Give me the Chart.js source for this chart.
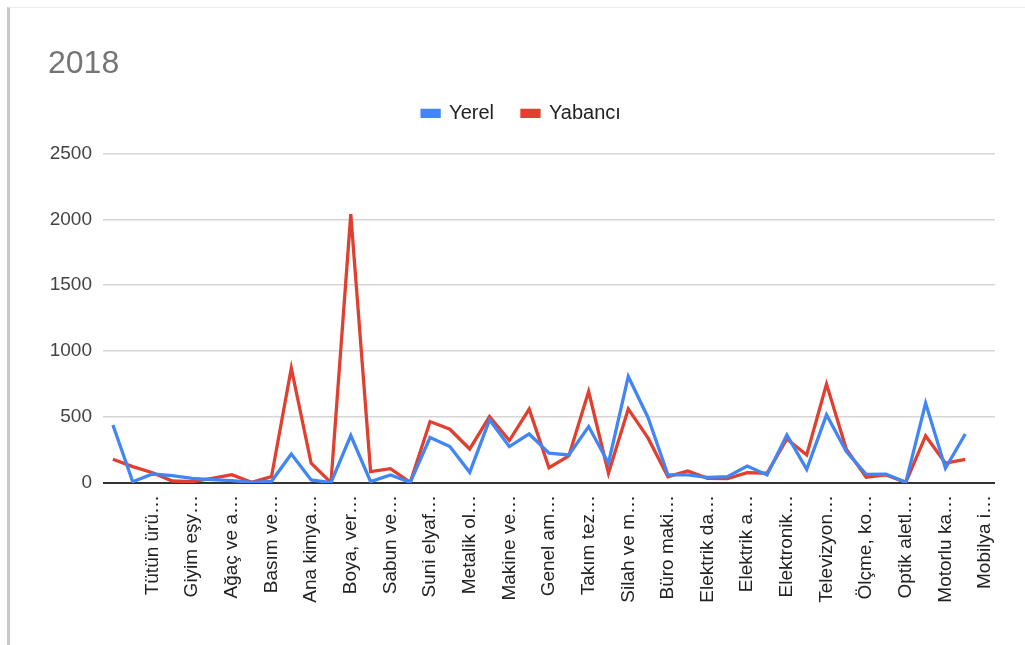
<!DOCTYPE html>
<html>
<head>
<meta charset="utf-8">
<script src="https://cdn.jsdelivr.net/npm/chart.js@4/dist/chart.umd.min.js"></script>
<style>
  html, body { margin: 0; padding: 0; background: #fff; }
  #frame {
    position: absolute; left: 7px; top: 7px; width: 1018px; height: 638px;
    border-left: 3px solid #c8c8c8; border-top: 1px solid #ececec;
    box-sizing: border-box;
  }
  #wrap { position: absolute; left: 0; top: 0; width: 1025px; height: 645px; }
</style>
</head>
<body>
<div id="frame"></div>
<div id="wrap"><canvas id="chart" width="1025" height="645"></canvas></div>
<script>
// categories (only every second one is labelled on the axis; '' = unlabelled)
const categories = [
  '', '', 'Tütün ürü…', '', 'Giyim eşy…', '', 'Ağaç ve a…', '', 'Basım ve…', '',
  'Ana kimya…', '', 'Boya, ver…', '', 'Sabun ve…', '', 'Suni elyaf…', '', 'Metalik ol…', '',
  'Makine ve…', '', 'Genel am…', '', 'Takım tez…', '', 'Silah ve m…', '', 'Büro maki…', '',
  'Elektrik da…', '', 'Elektrik a…', '', 'Elektronik…', '', 'Televizyon…', '', 'Ölçme, ko…', '',
  'Optik aletl…', '', 'Motorlu ka…', '', 'Mobilya i…'
];

const yerel = [
  440, 10, 68, 56, 35, 26, 18, 5, 13, 220,
  23, 3, 360, 10, 61, 5, 345, 276, 81, 479,
  276, 372, 226, 213, 428, 150, 808, 495, 61, 61,
  43, 48, 129, 61, 365, 104, 517, 238, 66, 68,
  5, 606, 112, 372, null
];

const yabanci = [
  180, 124, 78, 15, 10, 35, 63, 5, 48, 871,
  150, 3, 2040, 86, 109, 5, 466, 408, 258, 504,
  322, 560, 116, 205, 694, 74, 562, 340, 48, 91,
  35, 33, 78, 74, 334, 213, 750, 256, 43, 61,
  5, 357, 150, 180, null
];

const yTicks = [0, 500, 1000, 1500, 2000, 2500];

const FONT = 'Arial, "Liberation Sans", sans-serif';

new Chart(document.getElementById('chart'), {
  type: 'line',
  data: {
    labels: categories,
    datasets: [
      { label: 'Yerel', data: yerel, borderColor: '#4285f4', backgroundColor: '#4285f4',
        borderWidth: 3.3, pointRadius: 0, tension: 0 },
      { label: 'Yabancı', data: yabanci, borderColor: '#e0402f', backgroundColor: '#e0402f',
        borderWidth: 3.3, pointRadius: 0, tension: 0 }
    ]
  },
  options: {
    responsive: false,
    animation: false,
    layout: { padding: { left: 48, right: 30, top: 0, bottom: 22 } },
    plugins: {
      title: {
        display: true, text: '2018', align: 'start', color: '#757575',
        font: { family: FONT, size: 32, weight: 'normal' },
        padding: { top: 45, bottom: -8 }
      },
      // blank spacer between legend and plot
      subtitle: {
        display: true, text: ' ', weight: 500,
        font: { size: 10 }, padding: { top: 8, bottom: 0 }
      },
      legend: {
        labels: {
          color: '#222', boxWidth: 17, boxHeight: 6, padding: 28,
          font: { family: FONT, size: 20 }
        }
      },
      tooltip: { enabled: false }
    },
    scales: {
      x: {
        offset: true,
        grid: { display: false },
        border: { display: false },
        afterFit: s => { s.height = 140; },
        ticks: {
          autoSkip: false, maxRotation: 90, minRotation: 90, padding: 4,
          color: '#222', font: { family: FONT, size: 19 }
        }
      },
      y: {
        min: 0, max: 2500,
        afterFit: s => { s.width = 55; },
        afterBuildTicks: s => { s.ticks = yTicks.map(v => ({ value: v })); },
        border: { display: false },
        grid: {
          drawTicks: false,
          color: c => c.tick.value === 0 ? '#333' : '#d6d6d6',
          lineWidth: c => c.tick.value === 0 ? 2 : 1.5
        },
        ticks: {
          padding: 11, color: '#444',
          font: { family: FONT, size: 19 },
          callback: v => String(v)
        }
      }
    }
  }
});
</script>
</body>
</html>
